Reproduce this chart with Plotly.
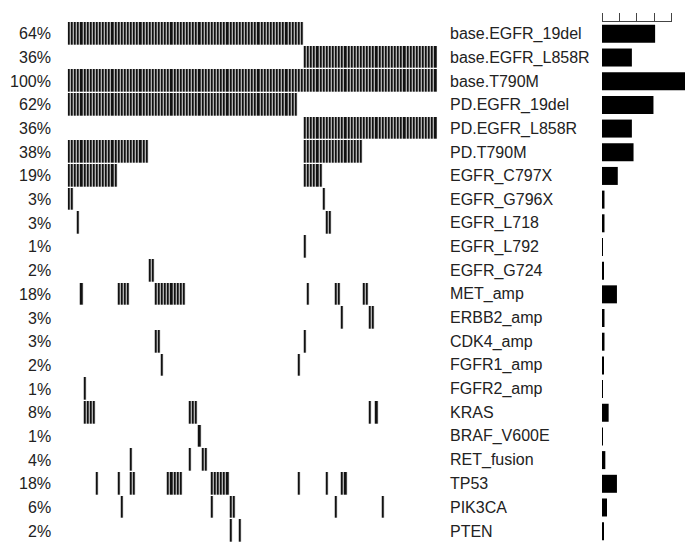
import plotly.graph_objects as go

N_SAMPLES = 119

genes = [
    "base.EGFR_19del", "base.EGFR_L858R", "base.T790M", "PD.EGFR_19del",
    "PD.EGFR_L858R", "PD.T790M", "EGFR_C797X", "EGFR_G796X", "EGFR_L718",
    "EGFR_L792", "EGFR_G724", "MET_amp", "ERBB2_amp", "CDK4_amp", "FGFR1_amp",
    "FGFR2_amp", "KRAS", "BRAF_V600E", "RET_fusion", "TP53", "PIK3CA", "PTEN",
]

# share of samples carrying each alteration (%)
pct_altered = [64, 36, 100, 62, 36, 38, 19, 3, 3, 1, 2, 18, 3, 3, 2, 1, 8, 1, 4, 18, 6, 2]

# altered samples for each gene, as inclusive (first, last) column runs
altered_runs = [
    [(0, 75)],
    [(76, 118)],
    [(0, 118)],
    [(0, 73)],
    [(76, 118)],
    [(0, 25), (76, 94)],
    [(0, 15), (76, 81)],
    [(0, 1), (82, 82)],
    [(3, 3), (83, 84)],
    [(76, 76)],
    [(26, 27)],
    [(4, 4), (16, 19), (28, 37), (77, 77), (86, 87), (95, 96)],
    [(88, 88), (97, 98)],
    [(28, 29), (76, 76)],
    [(30, 30), (74, 74)],
    [(5, 5)],
    [(5, 8), (39, 41), (97, 97), (99, 99)],
    [(42, 42)],
    [(20, 20), (39, 39), (43, 44)],
    [(9, 9), (16, 16), (20, 21), (32, 36), (46, 51), (74, 74), (83, 83), (88, 89)],
    [(17, 17), (46, 46), (52, 53), (86, 86), (101, 101)],
    [(52, 52), (55, 55)],
]

# ruler ticks every 25 samples, expressed as % of the cohort
RULER_STEP = 25
ruler_ticks = [100 * k * RULER_STEP / N_SAMPLES for k in range(5)]

W, H = 685, 543
TOP = 22
INK = "#111111"
TEXT = "#222222"
FONT = "Liberation Sans, Arial, sans-serif"

# oncoprint matrix: 1 where altered, None elsewhere
z = []
for runs in altered_runs:
    row = [None] * N_SAMPLES
    for a, b in runs:
        for s in range(a, b + 1):
            row[s] = 1
    z.append(row)

fig = go.Figure()

fig.add_trace(go.Heatmap(
    z=z,
    x=list(range(N_SAMPLES)),
    y=genes,
    colorscale=[[0, INK], [1, INK]],
    zmin=0, zmax=1,
    showscale=False,
    xgap=0.9, ygap=1.3,
    hoverinfo="skip",
    xaxis="x", yaxis="y",
))

# frequency bars on the right (percent scale, 100% spans the panel)
fig.add_trace(go.Bar(
    x=pct_altered,
    y=genes,
    orientation="h",
    width=0.76,
    marker=dict(color="black", line=dict(width=0)),
    hoverinfo="skip",
    xaxis="x2", yaxis="y",
))

# empty trace so the ruler axis gets its own subplot
fig.add_trace(go.Scatter(
    x=[None], y=[None], mode="markers", showlegend=False,
    hoverinfo="skip", xaxis="x3", yaxis="y",
))

# row labels: frequency on the left, alteration name on the right
annotations = []
for g, p in zip(genes, pct_altered):
    annotations.append(dict(
        x=52.5 / W, xref="paper", y=g, yref="y",
        text=f"{p}%", showarrow=False, xanchor="right", yanchor="middle",
        font=dict(family=FONT, size=16, color=TEXT),
    ))
    annotations.append(dict(
        x=447.5 / W, xref="paper", y=g, yref="y",
        text=g, showarrow=False, xanchor="left", yanchor="middle",
        font=dict(family=FONT, size=16, color=TEXT),
    ))

bar_x0 = 602.0
bar_x1 = 685.0
px_per_pct = (bar_x1 - bar_x0) / 100.0
ruler_end = bar_x0 + px_per_pct * ruler_ticks[-1]

fig.update_layout(
    width=W, height=H,
    margin=dict(l=0, r=0, t=0, b=0),
    paper_bgcolor="white", plot_bgcolor="rgba(0,0,0,0)",
    showlegend=False,
    annotations=annotations,
    xaxis=dict(
        domain=[67.7 / W, 437.3 / W], range=[-0.5, N_SAMPLES - 0.5],
        visible=False, fixedrange=True,
    ),
    xaxis2=dict(
        domain=[bar_x0 / W, bar_x1 / W], range=[0, 100],
        anchor="y", visible=False, fixedrange=True,
    ),
    # ruler over the bars, same scale as xaxis2
    xaxis3=dict(
        domain=[bar_x0 / W, ruler_end / W], range=[0, ruler_ticks[-1]],
        anchor="y", side="top",
        showline=True, linecolor="#444444", linewidth=1,
        ticks="outside", ticklen=8, tickwidth=1, tickcolor="#444444",
        tickvals=ruler_ticks, showticklabels=False,
        showgrid=False, zeroline=False, fixedrange=True,
    ),
    yaxis=dict(
        domain=[0, 1 - TOP / H], range=[len(genes) - 0.5, -0.5],
        visible=False, fixedrange=True,
    ),
)

fig.write_html("out.html")
